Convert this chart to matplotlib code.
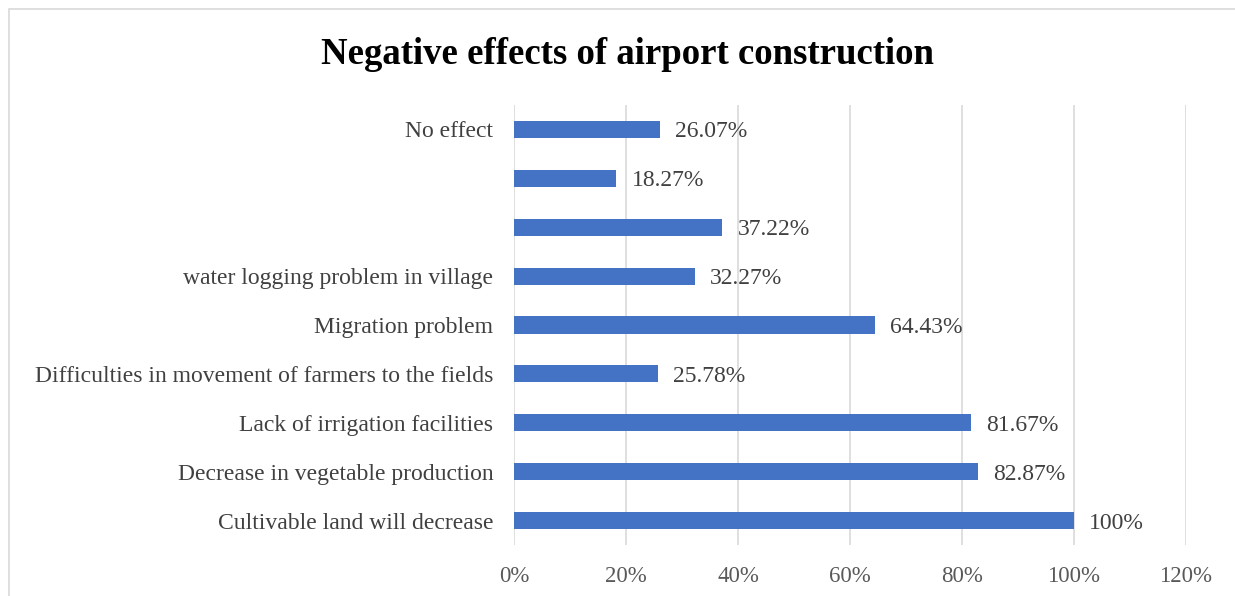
import matplotlib.pyplot as plt
from matplotlib.patches import Rectangle
from matplotlib.ticker import FuncFormatter

# Data (bottom to top)
categories = ['Cultivable land will decrease', 'Decrease in vegetable production',
              'Lack of irrigation facilities', 'Difficulties in movement of farmers to the fields',
              'Migration problem', 'water logging problem in village', '', '', 'No effect']
values = [100, 82.87, 81.67, 25.78, 64.43, 32.27, 37.22, 18.27, 26.07]
value_labels = ['100%', '82.87%', '81.67%', '25.78%', '64.43%', '32.27%', '37.22%', '18.27%', '26.07%']
xticks = [0, 20, 40, 60, 80, 100, 120]

plt.rcParams['font.family'] = ['Liberation Serif', 'DejaVu Serif']

fig = plt.figure(figsize=(12.35, 5.96), dpi=100)
ax = fig.add_axes([0.4162, 0.0856, 0.5441, 0.7382])

# chart border (extends past right/bottom edges)
fig.patches.append(Rectangle((9 / 1235, -0.05), 1.1, 1 - 9 / 596 + 0.05,
                             transform=fig.transFigure, fill=False,
                             edgecolor='#d9d9d9', linewidth=1.2))

y = range(len(categories))
bars = ax.barh(y, values, height=0.35, color='#4472C4', zorder=3)

for bar, lab in zip(bars, value_labels):
    ax.text(bar.get_width() + 2.7, bar.get_y() + bar.get_height() / 2, lab,
            va='center_baseline', ha='left', fontsize=17, color='#404040')

ax.set_xlim(0, 120)
ax.set_ylim(-0.5, len(categories) - 0.5)
ax.set_xticks(xticks)
ax.xaxis.set_major_formatter(FuncFormatter(lambda v, p: f'{v:.0f}%'))
ax.set_yticks(list(y))
ax.set_yticklabels(categories)
ax.tick_params(axis='x', length=0, pad=15, labelsize=16.5, labelcolor='#595959')
ax.tick_params(axis='y', length=0, pad=15, labelsize=17, labelcolor='#404040')
ax.grid(axis='x', color='#d9d9d9', linewidth=1.2, zorder=0)
for s in ax.spines.values():
    s.set_visible(False)

fig.text(627 / 1235, 1 - 54 / 596, 'Negative effects of airport construction',
         ha='center', va='center', fontsize=26.5, fontweight='bold', color='black')

fig.savefig('out.png', dpi=100)
